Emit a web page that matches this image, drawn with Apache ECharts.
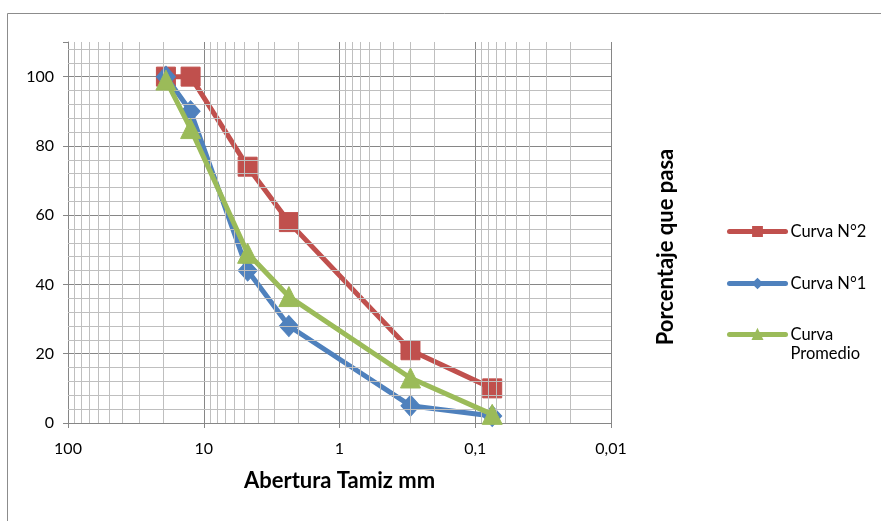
<!DOCTYPE html>
<html>
<head>
<meta charset="utf-8">
<style>
  html, body { margin: 0; padding: 0; background: #fff; }
  #chart { width: 881px; height: 521px; }
</style>
<script src="https://cdn.jsdelivr.net/npm/echarts@6/dist/echarts.min.js"></script>
</head>
<body>
<div id="chart"></div>
<script>
// Sieve openings (mm) and percentage passing for each grading curve
const sieveOpenings = [19, 12.5, 4.75, 2.36, 0.3, 0.075];
const curva2 = [100, 100, 74, 58, 21, 10];
const curva1 = [100, 90, 44, 28, 5, 2];
const curvaPromedio = [99, 85, 49, 36.5, 13, 2.5];
const seriesNames = ['Curva N°2', 'Curva N°1', 'Curva Promedio'];

// Axis ticks
const xTickValues = [100, 10, 1, 0.1, 0.01];
const xTickLabels = ['100', '10', '1', '0,1', '0,01'];
const yTickValues = [0, 20, 40, 60, 80, 100];
const yMax = 110;

const FONT = 'Lato, "Open Sans", "Liberation Sans", sans-serif';
const MAJOR = '#868686';
const MINOR = '#bfbfbf';
const RED = '#c0504d', BLUE = '#4f81bd', GREEN = '#9bbb59';

// Log-decade minor grid positions (2..9 x each decade) and y minor steps of 4
const minorX = [];
[0.01, 0.1, 1, 10].forEach(d => {
  for (let k = 2; k <= 9; k++) minorX.push(Number((k * d).toPrecision(3)));
});
const minorY = [];
for (let v = 4; v < yMax; v += 4) if (v % 20 !== 0) minorY.push(v);

const pairs = vals => sieveOpenings.map((s, i) => [s, vals[i]]);

const chart = echarts.init(document.getElementById('chart'), null, { renderer: 'canvas' });

const legendBase = {
  orient: 'vertical',
  left: 727,
  padding: 0,
  itemWidth: 56,
  itemHeight: 11,
  itemGap: 8,
  lineStyle: { width: 5, cap: 'round' },
  textStyle: { fontFamily: FONT, fontSize: 16.5, color: '#000', lineHeight: 19 },
  selectedMode: false
};

function curve(name, vals, color, symbol, size, z) {
  return {
    name: name,
    type: 'line',
    z: z,
    data: pairs(vals),
    symbol: symbol,
    symbolSize: size,
    color: color,
    lineStyle: { width: 5, color: color },
    itemStyle: { color: color, borderColor: color, borderWidth: 1, opacity: 1 }
  };
}

chart.setOption({
  animation: false,
  backgroundColor: '#fff',
  grid: { left: 68, right: 270, top: 42, bottom: 98 },
  xAxis: {
    type: 'log',
    logBase: 10,
    min: 0.01,
    max: 100,
    inverse: true,
    name: 'Abertura Tamiz mm',
    nameLocation: 'middle',
    nameGap: 47,
    nameTextStyle: { fontFamily: FONT, fontSize: 22, fontWeight: 'bold', color: '#000' },
    axisLine: { show: true, lineStyle: { color: MAJOR, width: 1 } },
    axisTick: { show: true, length: 5, lineStyle: { color: MAJOR } },
    axisLabel: {
      margin: 18,
      fontFamily: FONT, fontSize: 16, color: '#000',
      formatter: v => {
        const i = xTickValues.findIndex(t => Math.abs(Math.log10(t) - Math.log10(v)) < 1e-6);
        return i >= 0 ? xTickLabels[i] : '';
      }
    },
    splitLine: { show: true, lineStyle: { color: MAJOR, width: 1 } }
  },
  yAxis: {
    type: 'value',
    min: 0,
    max: yMax,
    interval: 20,
    axisLine: { show: true, lineStyle: { color: MAJOR, width: 1 } },
    axisTick: { show: true, length: 5, lineStyle: { color: MAJOR } },
    axisLabel: {
      margin: 14,
      fontFamily: FONT, fontSize: 16, color: '#000',
      formatter: v => (yTickValues.includes(v) ? String(v) : '')
    },
    splitLine: {
      show: true,
      lineStyle: { color: [MAJOR, MAJOR, MAJOR, MAJOR, MAJOR, MAJOR, 'rgba(0,0,0,0)'], width: 1 }
    }
  },
  legend: [
    Object.assign({}, legendBase, { top: 222, data: [seriesNames[0]] }),
    Object.assign({}, legendBase, { top: 274, data: [seriesNames[1]] }),
    Object.assign({}, legendBase, {
      top: 306,
      data: [seriesNames[2]],
      formatter: () => '\nCurva\nPromedio'
    })
  ],
  graphic: [
    {
      type: 'rect',
      z: -10,
      shape: { x: 7.5, y: 13.5, width: 900, height: 600 },
      style: { fill: 'none', stroke: '#8c8c8c', lineWidth: 1 }
    },
    {
      type: 'text',
      x: 666,
      y: 247,
      rotation: Math.PI / 2,
      style: {
        text: 'Porcentaje que pasa',
        font: 'bold 22px ' + FONT,
        fill: '#000',
        align: 'center',
        verticalAlign: 'middle'
      }
    }
  ],
  series: [
    {
      // minor grid lines drawn through the axis scales
      type: 'line',
      name: '_grid',
      z: 1,
      silent: true,
      data: [[1, 0]],
      showSymbol: false,
      lineStyle: { opacity: 0 },
      markLine: {
        silent: true,
        symbol: ['none', 'none'],
        label: { show: false },
        lineStyle: { color: MINOR, width: 1, type: 'solid' },
        emphasis: { disabled: true },
        data: minorX.map(v => ({ xAxis: v })).concat(minorY.map(v => ({ yAxis: v })))
      }
    },
    curve(seriesNames[0], curva2, RED, 'rect', 19, 3),
    curve(seriesNames[1], curva1, BLUE, 'diamond', [19, 21], 4),
    curve(seriesNames[2], curvaPromedio, GREEN, 'triangle', 20, 5)
  ]
});
</script>
</body>
</html>
